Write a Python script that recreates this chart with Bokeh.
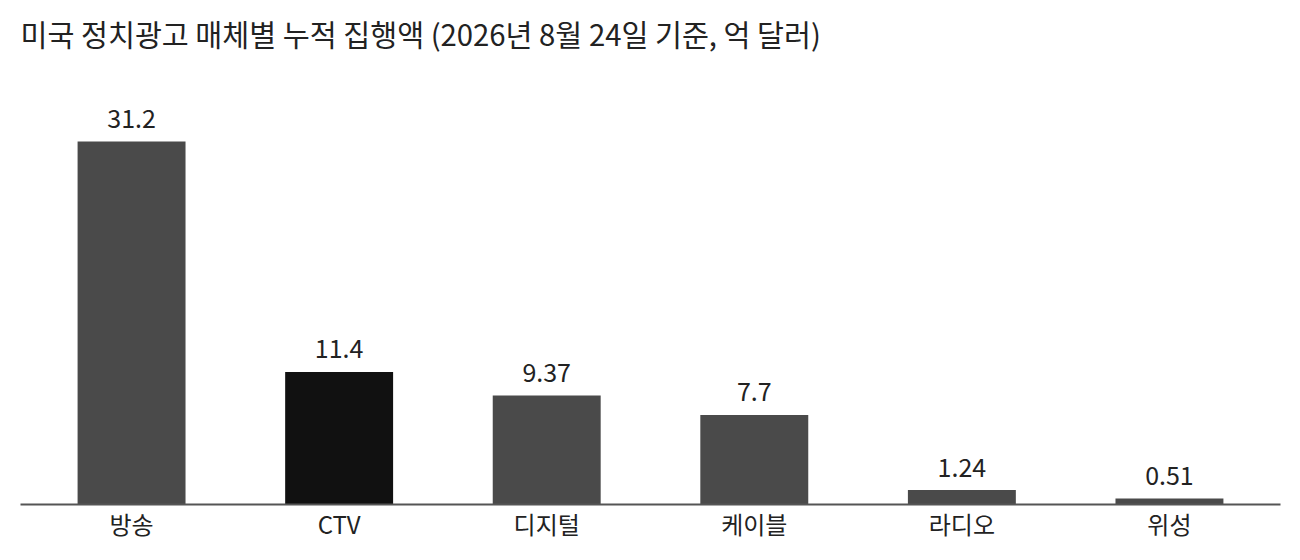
from bokeh.plotting import figure
from bokeh.models import ColumnDataSource, FactorRange, Range1d
from bokeh.core.properties import value
from bokeh.embed import file_html
from bokeh.resources import INLINE

# --- data ---
categories = ["방송", "CTV", "디지털", "케이블", "라디오", "위성"]
amounts = [31.2, 11.4, 9.37, 7.7, 1.24, 0.51]
value_labels = ["31.2", "11.4", "9.37", "7.7", "1.24", "0.51"]
highlight = "CTV"
title_text = "미국 정치광고 매체별 누적 집행액 (2026년 8월 24일 기준, 억 달러)"

FONT = "Noto Sans CJK KR"
BASE = "#4a4a4a"
HIGH = "#111111"
TEXT = "#222222"

colors = [HIGH if c == highlight else BASE for c in categories]
src = ColumnDataSource(dict(cat=categories, amt=amounts, lab=value_labels, col=colors))

p = figure(
    x_range=FactorRange(*categories, range_padding=0.035, range_padding_units="absolute"),
    y_range=Range1d(0, 38.0),
    width=1292, height=544,
    output_backend="svg", toolbar_location=None,
    min_border_left=20, min_border_right=12, min_border_top=62, min_border_bottom=40,
)

p.vbar(x="cat", top="amt", width=0.52, source=src, fill_color="col", line_color=None)
p.text(x="cat", y="amt", text="lab", source=src, text_align="center",
       text_baseline="alphabetic", y_offset=-23, text_font=value(FONT),
       text_font_size="25px", text_color=TEXT)

p.title.text = title_text
p.title.text_font = FONT
p.title.text_font_size = "29.3px"
p.title.text_font_style = "normal"
p.title.text_color = TEXT
p.title.align = "left"
p.title.standoff = 17

p.yaxis.visible = False
p.xgrid.grid_line_color = None
p.ygrid.grid_line_color = None
p.outline_line_color = None

ax = p.xaxis[0]
ax.axis_line_color = "#555555"
ax.axis_line_width = 2
ax.major_tick_line_color = None
ax.minor_tick_line_color = None
ax.major_tick_out = 0
ax.major_tick_in = 0
ax.minor_tick_out = 0
ax.minor_tick_in = 0
ax.major_label_text_font = FONT
ax.major_label_text_font_size = "24px"
ax.major_label_text_color = TEXT
ax.major_label_standoff = 1

open("out.html", "w").write(file_html(p, INLINE))
